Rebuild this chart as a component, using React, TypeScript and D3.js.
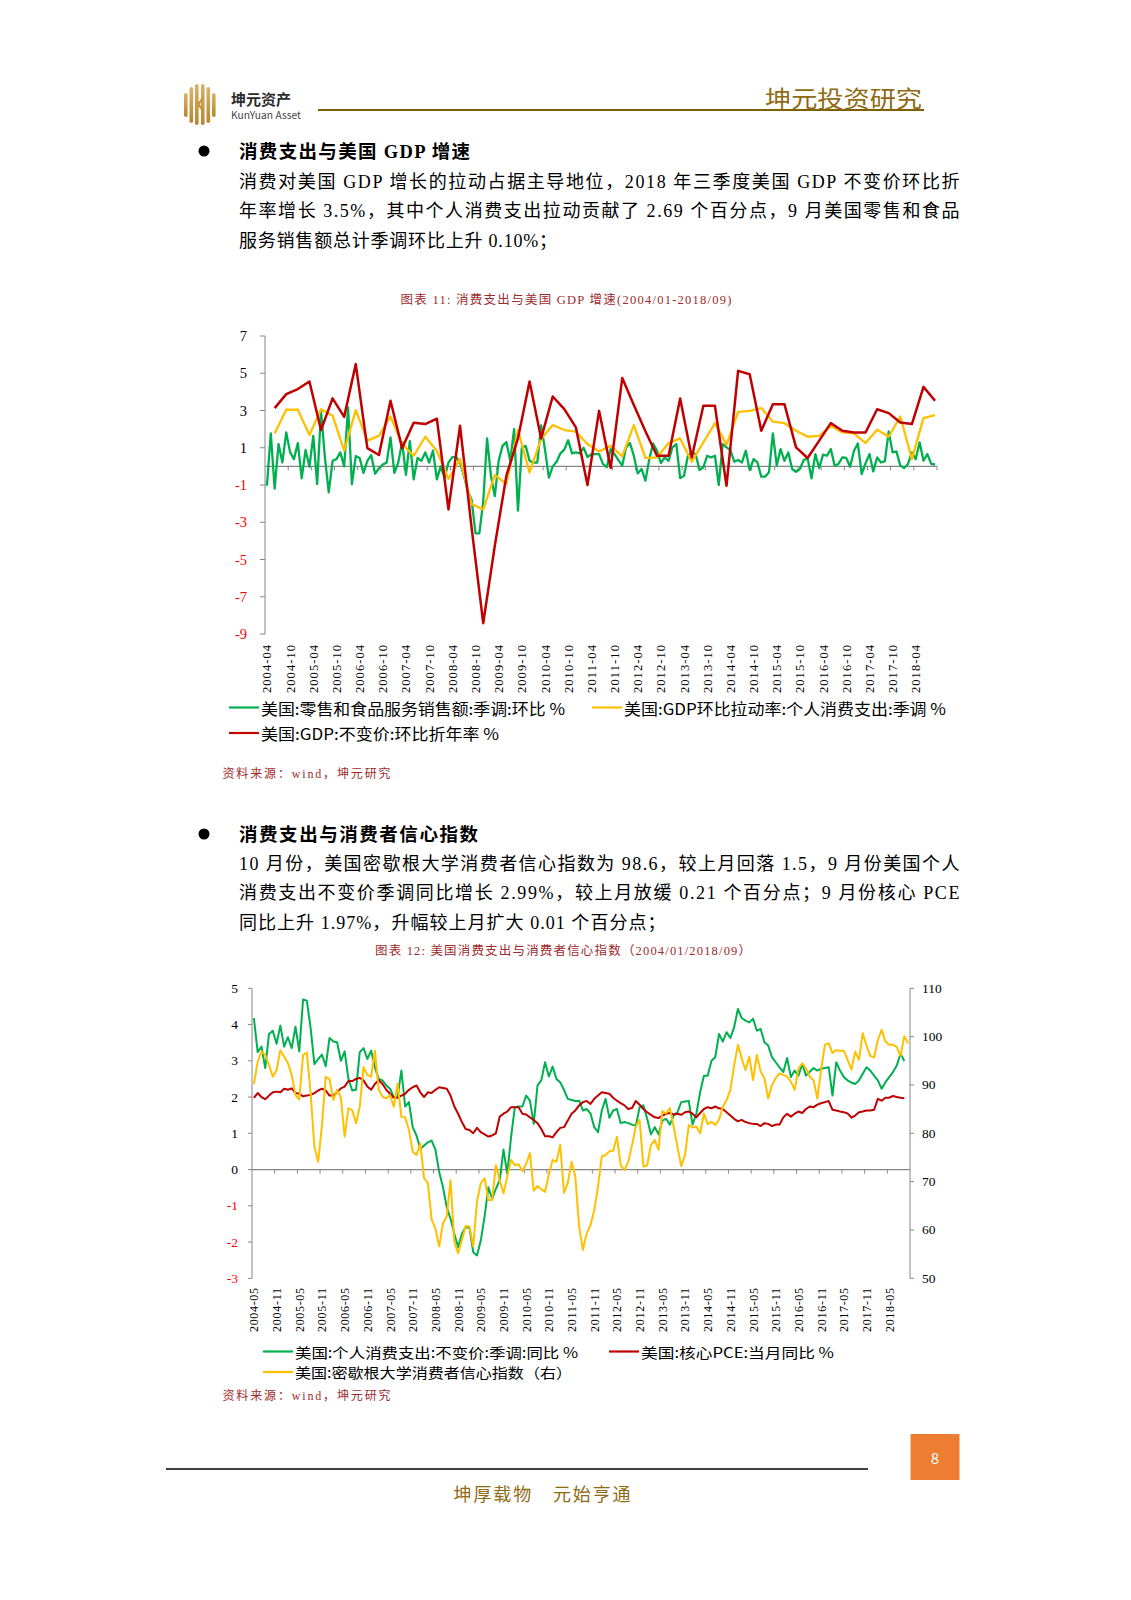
import React from "react";
import * as d3 from "d3";

// ---------- categories & tick labels ----------
const fmt = d3.timeFormat("%Y-%m");
const months1 = d3.timeMonth.range(new Date(2004, 3, 1), new Date(2018, 9, 1)).map(fmt); // 2004-04 .. 2018-09
const months2 = d3.timeMonth.range(new Date(2004, 4, 1), new Date(2018, 10, 1)).map(fmt); // 2004-05 .. 2018-10
const quarterMonths1 = months1.filter((_, i) => i % 3 === 2);

const ticks1 = ["2004-04","2004-10","2005-04","2005-10","2006-04","2006-10","2007-04","2007-10","2008-04","2008-10","2009-04","2009-10","2010-04","2010-10","2011-04","2011-10","2012-04","2012-10","2013-04","2013-10","2014-04","2014-10","2015-04","2015-10","2016-04","2016-10","2017-04","2017-10","2018-04"];
const ticks2 = ["2004-05","2004-11","2005-05","2005-11","2006-05","2006-11","2007-05","2007-11","2008-05","2008-11","2009-05","2009-11","2010-05","2010-11","2011-05","2011-11","2012-05","2012-11","2013-05","2013-11","2014-05","2014-11","2015-05","2015-11","2016-05","2016-11","2017-05","2017-11","2018-05"];
const yTicks1 = [7, 5, 3, 1, -1, -3, -5, -7, -9];
const yTicks2L = [5, 4, 3, 2, 1, 0, -1, -2, -3];
const yTicks2R = [110, 100, 90, 80, 70, 60, 50];

// ---------- chart 1 data ----------
const retailMoM = [
  -1.04,1.77,-1.2,1.2,0.21,1.82,0.75,0.39,1.25,-0.64,
  0.88,-0.02,1.64,-0.95,2.98,0.5,-1.39,0.3,0.39,0.75,
  0.0,3.16,-0.95,0.55,0.45,-0.35,0.3,0.6,-0.4,-0.1,
  0.1,0.2,1.55,-0.35,0.2,1.3,-0.45,1.35,-0.7,0.45,
  0.3,0.75,0.2,0.85,-0.7,0.0,-0.6,0.2,0.5,0.5,
  0.2,-0.5,-1.3,-1.8,-3.6,-3.6,-1.9,1.5,-0.5,-1.6,
  0.3,1.1,1.3,0.3,2.0,-2.38,1.0,1.1,0.3,0.2,
  0.2,2.2,0.9,-0.6,0.0,0.25,0.7,0.9,1.4,0.7,
  0.75,0.7,1.0,0.5,0.65,0.66,0.66,0.13,-0.05,0.93,
  0.66,0.34,0.04,1.02,1.25,0.57,-0.38,-0.14,-0.77,0.39,
  1.23,0.84,0.18,0.48,0.3,1.02,1.2,-0.63,-0.5,0.57,
  0.75,0.66,-0.2,-0.05,0.57,0.48,0.57,-1.0,1.2,1.02,
  0.88,0.25,0.34,0.21,0.84,-0.2,0.39,0.21,-0.55,-0.55,
  -0.32,1.77,0.04,0.93,0.3,0.75,-0.14,-0.29,-0.14,0.34,
  0.43,-0.64,0.66,-0.09,0.63,0.57,0.93,0.04,0.13,0.48,
  0.45,-0.02,0.84,1.23,-0.41,0.16,0.66,-0.27,0.48,0.21,
  0.27,1.88,0.75,0.8,0.04,-0.09,0.13,0.75,0.39,1.29,
  0.3,0.66,0.13,0.1
];
const pceContribQ = [
  1.77,3.04,3.04,1.68,3.07,2.72,0.84,3.02,1.38,1.64,
  2.68,1.2,0.57,1.59,0.84,-0.68,0.39,-2.02,-2.32,-0.46,
  -0.95,1.95,-0.32,1.47,2.22,1.95,1.86,1.2,0.8,1.1,
  0.54,2.22,0.45,0.48,1.25,1.5,0.25,1.29,2.32,1.16,
  2.93,2.98,3.13,2.4,2.32,1.91,1.59,1.64,2.18,1.82,
  1.77,1.25,1.97,1.59,2.68,0.39,2.59,2.75
];
const gdpQoQ = [
  3.13,3.88,4.15,4.56,1.95,3.65,2.66,5.49,0.98,0.61,
  3.52,0.98,2.34,2.27,2.56,-2.31,2.18,-3.3,-8.42,-4.27,
  -0.5,1.5,4.56,1.5,3.75,3.07,2.09,-1.0,2.98,-0.09,
  4.74,3.29,1.89,0.57,0.57,3.65,0.48,3.25,3.25,-1.04,
  5.13,4.95,1.91,3.34,3.34,1.02,0.45,1.38,2.32,1.91,
  1.82,1.82,3.07,2.86,2.36,2.27,4.27,3.52
];

// ---------- chart 2 data ----------
const pceRealYoY = [
  4.18,3.24,3.39,2.8,3.74,3.83,3.47,3.97,3.39,3.65,
  3.35,3.94,3.26,4.69,4.66,3.9,2.91,3.05,3.17,2.85,
  3.63,3.53,3.51,3.0,3.26,2.5,2.18,2.2,3.24,3.35,
  3.05,3.28,2.82,2.5,2.46,2.32,2.23,2.0,2.0,2.73,
  1.74,1.86,1.17,0.94,0.57,0.66,0.75,0.8,0.55,-0.07,
  -0.49,-1.04,-1.36,-1.77,-2.14,-1.77,-1.59,-1.6,-2.28,-2.37,
  -1.96,-1.3,-0.49,-0.81,-0.53,-0.3,0.55,-0.12,0.89,1.72,
  1.74,1.74,2.04,1.9,1.26,2.32,2.46,2.96,2.57,2.84,
  2.5,2.41,2.2,1.95,1.92,1.89,1.9,
  1.63,1.67,1.55,1.17,1.03,1.63,1.95,1.43,1.63,1.67,
  1.28,1.31,1.28,1.24,1.21,1.72,1.77,1.4,0.97,1.17,
  0.97,1.35,1.4,1.24,1.49,1.58,1.86,1.88,1.89,1.24,
  1.54,2.13,2.59,2.59,3.0,3.1,3.74,3.53,3.79,3.63,
  3.93,4.43,4.18,4.11,4.06,4.16,3.83,3.88,3.51,3.42,
  3.1,2.96,2.82,2.69,3.08,2.55,2.73,2.59,2.91,2.59,
  2.7,2.8,2.73,2.78,2.8,2.82,2.04,2.96,2.73,2.55,
  2.46,2.4,2.36,2.46,2.64,2.82,2.73,2.59,2.46,2.23,
  2.41,2.55,2.69,2.87,3.2,2.99
];
const corePceYoY = [
  1.98,2.11,2.0,1.94,2.04,2.13,2.15,2.13,2.23,2.2,
  2.24,2.11,2.09,2.02,2.04,2.06,2.11,2.18,2.23,2.18,
  2.04,2.04,2.13,2.24,2.29,2.44,2.44,2.5,2.53,2.46,
  2.29,2.2,2.36,2.47,2.36,2.2,2.09,1.98,1.98,2.04,
  2.09,2.2,2.27,2.32,2.13,2.0,2.13,2.11,2.2,2.27,
  2.25,2.23,2.04,1.74,1.54,1.31,1.12,1.09,1.0,1.15,
  1.03,0.97,0.91,0.94,1.0,1.46,1.54,1.6,1.72,1.72,
  1.72,1.54,1.52,1.44,1.37,1.28,1.12,0.92,0.92,0.89,
  1.03,1.15,1.17,1.35,1.54,1.63,1.77,
  1.86,1.89,1.81,1.95,2.04,2.13,2.11,2.09,1.98,1.9,
  1.83,1.77,1.67,1.7,1.89,1.79,1.67,1.58,1.51,1.44,
  1.42,1.49,1.54,1.56,1.52,1.54,1.51,1.58,1.6,1.54,
  1.44,1.56,1.67,1.72,1.69,1.74,1.69,1.67,1.58,1.49,
  1.4,1.33,1.37,1.31,1.28,1.26,1.26,1.2,1.28,1.26,
  1.2,1.24,1.24,1.44,1.54,1.46,1.54,1.6,1.56,1.67,
  1.74,1.72,1.79,1.83,1.86,1.89,1.65,1.63,1.6,1.58,
  1.55,1.43,1.49,1.58,1.6,1.63,1.63,1.65,1.95,1.9,
  1.98,1.98,2.03,2.0,1.98,1.97
];
const michiganIndex = [
  90.2,94.8,96.9,96.2,94.1,91.7,93.1,97.2,95.9,94.5,
  92.1,87.9,87.0,96.2,96.7,88.3,77.2,74.1,81.7,91.7,
  91.2,86.9,89.0,87.4,79.3,85.2,84.8,82.1,85.5,93.7,
  92.1,91.7,97.1,89.0,87.6,87.2,87.9,85.5,90.3,83.4,
  83.3,80.7,76.2,75.5,77.9,70.7,69.7,62.2,60.3,56.6,
  61.4,62.8,70.3,57.6,55.2,57.9,60.8,60.7,56.6,65.9,
  69.7,70.7,66.2,66.2,73.4,70.3,67.6,71.0,74.5,73.4,
  73.6,72.2,73.7,75.9,68.1,69.1,68.4,67.9,71.5,74.5,
  74.1,77.6,67.7,69.7,74.1,71.0,60.7,
  55.9,59.3,61.0,64.1,69.0,75.2,75.5,76.3,76.4,79.3,
  73.4,72.4,74.1,77.6,81.4,82.8,73.1,73.4,77.6,78.6,
  76.6,84.6,84.1,85.2,81.4,77.2,73.2,75.5,81.7,81.2,
  81.4,80.0,84.1,81.9,82.4,81.7,82.8,85.5,86.9,89.0,
  94.1,98.3,95.5,93.1,95.9,91.0,96.2,92.8,91.4,87.2,
  90.0,91.4,92.4,92.1,91.7,90.7,89.0,93.4,94.5,93.4,
  91.7,91.0,87.2,93.1,98.3,98.6,96.6,97.2,97.1,97.1,
  95.2,93.2,96.9,95.2,100.7,98.1,96.0,95.7,99.3,101.4,
  99.0,98.3,98.3,97.9,96.0,100.1,98.6
];

// ---------- styles ----------
const GREEN = "#00B050";
const YELLOW = "#FFC000";
const RED = "#C00000";
const AXIS = "#868686";
const GOLD = "#8E6B12";
const TITLE_RED = "#9E2A2B";
const SERIF = "'Liberation Serif', 'Times New Roman', 'Noto Sans CJK SC', serif";
const SANS = "'Noto Sans CJK SC', 'Noto Sans', sans-serif";

type Pt = [string, number];

function Chart1() {
  const x = d3.scaleBand<string>().domain(months1).range([265, 937]);
  const y = d3.scaleLinear().domain([-9, 7]).range([634, 336]);
  const bw = x.bandwidth();
  const cx = (m: string) => (x(m) as number) + bw / 2;
  const line = d3.line<Pt>().x((d) => cx(d[0])).y((d) => y(d[1]));
  const green = line(months1.map((m, i) => [m, retailMoM[i]] as Pt).filter((d) => d[1] !== undefined)) || "";
  const yellow = line(quarterMonths1.map((m, i) => [m, pceContribQ[i]] as Pt)) || "";
  const red = line(quarterMonths1.map((m, i) => [m, gdpQoQ[i]] as Pt)) || "";
  const boundaries = months1.map((m, i) => i).filter((i) => i % 6 === 0 && i > 0);
  return (
    <g>
      <line x1={265} x2={265} y1={y(7)} y2={y(-9)} stroke={AXIS} strokeWidth={1} />
      {yTicks1.map((t) => (
        <g key={t}>
          <line x1={260} x2={265} y1={y(t)} y2={y(t)} stroke={AXIS} strokeWidth={1} />
          <text x={247} y={y(t)} textAnchor="end" dominantBaseline="central" fontFamily={SERIF} fontSize={14.5} fill={t < 0 ? "#FF0000" : "#000"}>{t}</text>
        </g>
      ))}
      <line x1={265} x2={937} y1={y(0)} y2={y(0)} stroke={AXIS} strokeWidth={1.2} />
      {boundaries.map((i) => (
        <line key={i} x1={x(months1[i]) as number} x2={x(months1[i]) as number} y1={y(0)} y2={y(0) + 4} stroke={AXIS} strokeWidth={1} />
      ))}
      <line x1={937} x2={937} y1={y(0)} y2={y(0) + 4} stroke={AXIS} strokeWidth={1} />
      {ticks1.map((t) => (
        <text key={t} transform={`translate(${cx(t) + 4.5},645) rotate(-90)`} textAnchor="end" fontFamily={SERIF} fontSize={12.5} textLength={48} lengthAdjust="spacing" fill="#000">{t}</text>
      ))}
      <path d={green} fill="none" stroke={GREEN} strokeWidth={2.3} strokeLinejoin="round" />
      <path d={yellow} fill="none" stroke={YELLOW} strokeWidth={2.3} strokeLinejoin="round" />
      <path d={red} fill="none" stroke={RED} strokeWidth={2.5} strokeLinejoin="round" />
    </g>
  );
}

function Chart2() {
  const x = d3.scaleBand<string>().domain(months2).range([252, 910]);
  const yL = d3.scaleLinear().domain([-3, 5]).range([1278.3, 988.3]);
  const yR = d3.scaleLinear().domain([50, 110]).range([1278.3, 988.3]);
  const bw = x.bandwidth();
  const cx = (m: string) => (x(m) as number) + bw / 2;
  const lineL = d3.line<Pt>().x((d) => cx(d[0])).y((d) => yL(d[1]));
  const lineR = d3.line<Pt>().x((d) => cx(d[0])).y((d) => yR(d[1]));
  const green = lineL(pceRealYoY.map((v, i) => [months2[i], v] as Pt)) || "";
  const red = lineL(corePceYoY.map((v, i) => [months2[i], v] as Pt)) || "";
  const yellow = lineR(michiganIndex.map((v, i) => [months2[i], v] as Pt)) || "";
  const boundaries = months2.map((m, i) => i).filter((i) => i % 6 === 0 && i > 0);
  return (
    <g>
      <line x1={252} x2={252} y1={yL(5)} y2={yL(-3)} stroke={AXIS} strokeWidth={1} />
      <line x1={910} x2={910} y1={yR(110)} y2={yR(50)} stroke={AXIS} strokeWidth={1} />
      {yTicks2L.map((t) => (
        <g key={t}>
          <line x1={248} x2={252} y1={yL(t)} y2={yL(t)} stroke={AXIS} strokeWidth={1} />
          <text x={238} y={yL(t)} textAnchor="end" dominantBaseline="central" fontFamily={SERIF} fontSize={13.5} fill={t < 0 ? "#FF0000" : "#000"}>{t}</text>
        </g>
      ))}
      {yTicks2R.map((t) => (
        <g key={t}>
          <line x1={910} x2={914} y1={yR(t)} y2={yR(t)} stroke={AXIS} strokeWidth={1} />
          <text x={922} y={yR(t)} textAnchor="start" dominantBaseline="central" fontFamily={SERIF} fontSize={13.5} fill="#000">{t}</text>
        </g>
      ))}
      <line x1={252} x2={910} y1={yL(0)} y2={yL(0)} stroke={AXIS} strokeWidth={1.2} />
      {boundaries.map((i) => (
        <line key={i} x1={x(months2[i]) as number} x2={x(months2[i]) as number} y1={yL(0)} y2={yL(0) + 4} stroke={AXIS} strokeWidth={1} />
      ))}
      {ticks2.map((t) => (
        <text key={t} transform={`translate(${cx(t) + 4.5},1288) rotate(-90)`} textAnchor="end" fontFamily={SERIF} fontSize={12} textLength={44} lengthAdjust="spacing" fill="#000">{t}</text>
      ))}
      <path d={green} fill="none" stroke={GREEN} strokeWidth={2} strokeLinejoin="round" />
      <path d={red} fill="none" stroke={RED} strokeWidth={2} strokeLinejoin="round" />
      <path d={yellow} fill="none" stroke={YELLOW} strokeWidth={2} strokeLinejoin="round" />
    </g>
  );
}

function LegendItem({ x, y, color, label, end, size = 15.5 }: { x: number; y: number; color: string; label: string; end: number; size?: number }) {
  return (
    <g>
      <line x1={x} x2={x + 30} y1={y} y2={y} stroke={color} strokeWidth={2.2} />
      <text x={x + 32} y={y} dominantBaseline="central" fontFamily={SANS} fontSize={size} textLength={end - x - 32} lengthAdjust="spacingAndGlyphs" fill="#000">{label}</text>
    </g>
  );
}

function Logo() {
  const bars = [
    { x: 184, y: 93, h: 24 },
    { x: 189.5, y: 87, h: 36 },
    { x: 195, y: 84, h: 41 },
    { x: 201, y: 84, h: 41 },
    { x: 206.5, y: 87, h: 36 },
    { x: 212, y: 93, h: 24 },
  ];
  return (
    <g>
      <defs>
        <linearGradient id="goldg" x1="0" x2="0" y1="0" y2="1">
          <stop offset="0" stopColor="#D9B36A" />
          <stop offset="1" stopColor="#B7862E" />
        </linearGradient>
      </defs>
      {bars.map((b, i) => (
        <rect key={i} x={b.x} y={b.y} width={3.6} height={b.h} rx={1.8} fill="url(#goldg)" />
      ))}
      <path d="M196 100 L203 108 L203 112 L196 104 Z" fill="#C8963E" />
      <path d="M203 96 L197 104 L197 108 L203 100 Z" fill="#C8963E" />
    </g>
  );
}

const para1 = [
  "消费对美国 GDP 增长的拉动占据主导地位，2018 年三季度美国 GDP 不变价环比折",
  "年率增长 3.5%，其中个人消费支出拉动贡献了 2.69 个百分点，9 月美国零售和食品",
  "服务销售额总计季调环比上升 0.10%；",
];
const para2 = [
  "10 月份，美国密歇根大学消费者信心指数为 98.6，较上月回落 1.5，9 月份美国个人",
  "消费支出不变价季调同比增长 2.99%，较上月放缓 0.21 个百分点；9 月份核心 PCE",
  "同比上升 1.97%，升幅较上月扩大 0.01 个百分点；",
];

function Para({ lines, ys, lastEnd }: { lines: string[]; ys: number[]; lastEnd: number }) {
  return (
    <g>
      {lines.map((l, i) => (
        <text key={i} x={239} y={ys[i]} dominantBaseline="central" fontFamily={SERIF} fontSize={18} textLength={(i < lines.length - 1 ? 959.5 : lastEnd) - 239} lengthAdjust="spacing" fill="#000">{l}</text>
      ))}
    </g>
  );
}

export default function App() {
  return (
    <svg width={1131} height={1600} viewBox="0 0 1131 1600" style={{ position: "absolute", left: 0, top: 0, background: "#fff" }}>
      <rect x={0} y={0} width={1131} height={1600} fill="#fff" />
      {/* header */}
      <Logo />
      <text x={231} y={98} dominantBaseline="central" fontFamily={SANS} fontWeight={700} fontSize={15} fill="#2b2b2b">坤元资产</text>
      <text x={231} y={114.5} dominantBaseline="central" fontFamily={SANS} fontSize={10} textLength={70} lengthAdjust="spacingAndGlyphs" fill="#444">KunYuan Asset</text>
      <line x1={318} x2={924} y1={110} y2={110} stroke="#7F6000" strokeWidth={2} />
      <text x={922} y={97} textAnchor="end" dominantBaseline="central" fontFamily={SANS} fontSize={23} textLength={157} lengthAdjust="spacingAndGlyphs" fill={GOLD}>坤元投资研究</text>

      {/* section 1 */}
      <circle cx={204} cy={151} r={5.5} fill="#000" />
      <text x={239} y={152} dominantBaseline="central" fontFamily={SERIF} fontWeight={700} fontSize={18.5} textLength={231} lengthAdjust="spacing" fill="#000">消费支出与美国 GDP 增速</text>
      <Para lines={para1} ys={[182, 211, 241]} lastEnd={557} />
      <text x={566} y={300} textAnchor="middle" dominantBaseline="central" fontFamily={SERIF} fontSize={12.5} textLength={331} lengthAdjust="spacing" fill={TITLE_RED}>图表 11: 消费支出与美国 GDP 增速(2004/01-2018/09)</text>
      <Chart1 />
      <LegendItem x={229} y={707.5} color={GREEN} label="美国:零售和食品服务销售额:季调:环比 %" end={565} />
      <LegendItem x={592} y={707.5} color={YELLOW} label="美国:GDP环比拉动率:个人消费支出:季调 %" end={946} />
      <LegendItem x={229} y={733} color={RED} label="美国:GDP:不变价:环比折年率 %" end={499} />
      <text x={222.5} y={774} dominantBaseline="central" fontFamily={SERIF} fontSize={12} textLength={168} lengthAdjust="spacing" fill={TITLE_RED}>资料来源：wind，坤元研究</text>

      {/* section 2 */}
      <circle cx={204} cy={834} r={5.5} fill="#000" />
      <text x={239} y={835} dominantBaseline="central" fontFamily={SERIF} fontWeight={700} fontSize={18.5} textLength={239} lengthAdjust="spacing" fill="#000">消费支出与消费者信心指数</text>
      <Para lines={para2} ys={[864, 893, 923]} lastEnd={665.5} />
      <text x={563} y={951} textAnchor="middle" dominantBaseline="central" fontFamily={SERIF} fontSize={12.5} textLength={376} lengthAdjust="spacing" fill={TITLE_RED}>图表 12: 美国消费支出与消费者信心指数（2004/01/2018/09）</text>
      <Chart2 />
      <LegendItem x={263} y={1351.5} color={GREEN} label="美国:个人消费支出:不变价:季调:同比 %" end={578} size={14} />
      <LegendItem x={609} y={1351.5} color={RED} label="美国:核心PCE:当月同比 %" end={834} size={14} />
      <LegendItem x={263} y={1372} color={YELLOW} label="美国:密歇根大学消费者信心指数（右）" end={572} size={14} />
      <text x={222.5} y={1396} dominantBaseline="central" fontFamily={SERIF} fontSize={12} textLength={168} lengthAdjust="spacing" fill={TITLE_RED}>资料来源：wind，坤元研究</text>

      {/* footer */}
      <rect x={910.5} y={1434} width={49} height={46} fill="#ED7D31" />
      <text x={935} y={1457} textAnchor="middle" dominantBaseline="central" fontFamily={SANS} fontSize={15} fill="#fff">8</text>
      <line x1={166} x2={868} y1={1469} y2={1469} stroke="#000" strokeWidth={1.3} />
      <text x={542} y={1493} textAnchor="middle" dominantBaseline="central" fontFamily={SANS} fontSize={18} textLength={177} lengthAdjust="spacing" fill={GOLD}>坤厚载物　元始亨通</text>
    </svg>
  );
}
